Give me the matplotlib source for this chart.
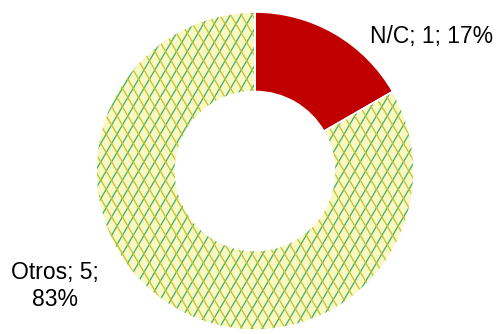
import numpy as np
import matplotlib.pyplot as plt
from matplotlib.collections import LineCollection

plt.rcParams['font.family'] = ['Liberation Sans', 'DejaVu Sans']

labels = ["N/C", "Otros"]
values = [1, 5]
percents = ["17%", "83%"]

red = "#C00000"
pale = "#FAF8C2"
green = "#45B26E"
olive = "#C4C42E"

fig = plt.figure(figsize=(5.01, 3.34), dpi=100)
ax = fig.add_axes([96 / 501, 4 / 334, 318 / 501, 318 / 334])

wedges, _ = ax.pie(values, startangle=90, counterclock=False, radius=1,
                   colors=[red, pale],
                   wedgeprops=dict(width=0.5, edgecolor="none", linewidth=0))

# steep crosshatch pattern inside the "Otros" slice
step = 0.068
slope = 1.7
offs = np.arange(-2.5, 2.5, step)
for sgn, col in [(1, green), (-1, olive)]:
    segs = [[(o - 1.2 / slope * sgn, -1.2), (o + 1.2 / slope * sgn, 1.2)] for o in offs]
    lc = LineCollection(segs, colors=col, linewidths=0.95, zorder=wedges[1].get_zorder() + 0.1)
    ax.add_collection(lc)
    lc.set_clip_path(wedges[1])

# white separators on top
ax.pie(values, startangle=90, counterclock=False, radius=1,
       colors=["none", "none"],
       wedgeprops=dict(width=0.5, edgecolor="white", linewidth=1.2, fill=False, zorder=5))

ax.set_xlim(-1, 1)
ax.set_ylim(-1, 1)

ax.text(1.113, 0.843, f"{labels[0]}; {values[0]}; {percents[0]}",
        ha="center", va="center", fontsize=16.5, clip_on=False)
ax.text(-1.258, -0.723, f"{labels[1]}; {values[1]};\n{percents[1]}",
        ha="center", va="center", fontsize=16.5, clip_on=False,
        linespacing=1.2)

fig.savefig("out.png", dpi=100)
